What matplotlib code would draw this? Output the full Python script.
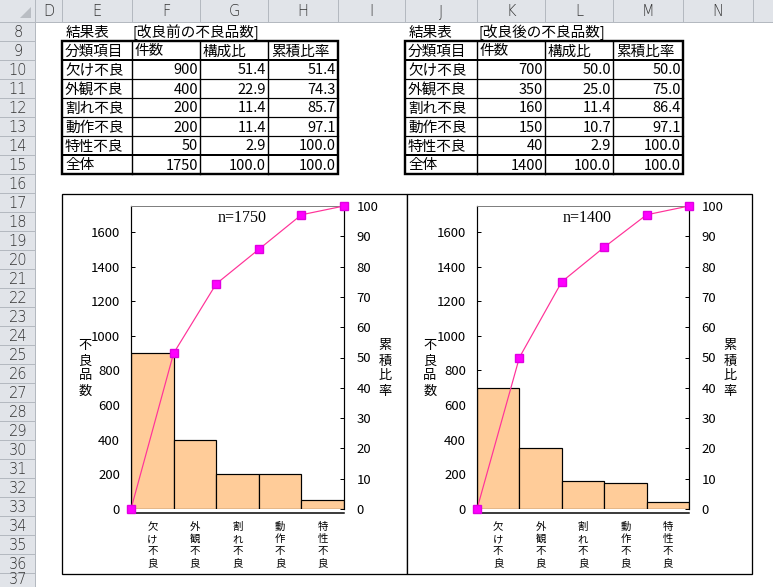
import matplotlib
matplotlib.use("Agg")
import matplotlib.pyplot as plt
from matplotlib.patches import Rectangle, Polygon

plt.rcParams['font.family'] = ['Noto Sans CJK JP', 'DejaVu Sans']

# spreadsheet data
categories = ['欠け不良', '外観不良', '割れ不良', '動作不良', '特性不良']
before_counts = [900, 400, 200, 200, 50]
before_share = [51.4, 22.9, 11.4, 11.4, 2.9]
before_cum = [51.4, 74.3, 85.7, 97.1, 100.0]
before_total = 1750
after_counts = [700, 350, 160, 150, 40]
after_share = [50.0, 25.0, 11.4, 10.7, 2.9]
after_cum = [50.0, 75.0, 86.4, 97.1, 100.0]
after_total = 1400

col_letters = ['D', 'E', 'F', 'G', 'H', 'I', 'J', 'K', 'L', 'M', 'N', '']
col_edges = [35, 62, 132, 200, 268, 338, 405, 477, 545, 613, 683, 753, 773]
row_numbers = list(range(8, 38))
left_ticks = [0, 200, 400, 600, 800, 1000, 1200, 1400, 1600]
right_ticks = [0, 10, 20, 30, 40, 50, 60, 70, 80, 90, 100]

W, H = 773, 587
HDR = 22
ROW = 19
fig = plt.figure(figsize=(W / 100, H / 100), dpi=100)
bg = fig.add_axes([0, 0, 1, 1])
bg.set_xlim(0, W)
bg.set_ylim(H, 0)
bg.axis('off')

def px(v):
    return v * 0.72

# header row and row-number column
head_col = '#E1E4E9'
sep_col = '#B4B9C0'
bg.add_patch(Rectangle((0, 0), W, HDR, fc=head_col, ec='none'))
bg.add_patch(Rectangle((0, 0), 35, H, fc=head_col, ec='none'))
bg.plot([0, W], [HDR, HDR], color=sep_col, lw=px(1))
bg.plot([35, 35], [0, H], color=sep_col, lw=px(1))
bg.add_patch(Polygon([[31, 7], [31, 18], [20, 18]], closed=True, fc='#B9BDC3', ec='none'))
for i, letter in enumerate(col_letters):
    x0, x1 = col_edges[i], col_edges[i + 1]
    bg.plot([x1, x1], [0, HDR], color=sep_col, lw=px(1))
    bg.text((x0 + x1) / 2, HDR / 2 + 1, letter, ha='center', va='center',
            fontsize=10.5, color='#333333', family='DejaVu Sans', fontweight='light')
for j, r in enumerate(row_numbers):
    y0 = HDR + j * ROW
    bg.plot([0, 35], [y0 + ROW, y0 + ROW], color=sep_col, lw=px(1))
    bg.text(18, min(y0 + ROW / 2 + 1, H - 8), str(r), ha='center', va='center',
            fontsize=10.5, color='#333333', family='DejaVu Sans', fontweight='light')

# result tables
def draw_table(x_edges, title, counts, share, cum, total):
    y_top = HDR + ROW
    bg.text(x_edges[0] + 4, HDR + ROW / 2 + 1, '結果表', ha='left', va='center', fontsize=10.5)
    bg.text(x_edges[1] + 1, HDR + ROW / 2 + 1, title, ha='left', va='center', fontsize=10.5)
    rows = [['分類項目', '件数', '構成比', '累積比率']]
    for c, n, s, cu in zip(categories, counts, share, cum):
        rows.append([c, str(n), f'{s:.1f}', f'{cu:.1f}'])
    rows.append(['全体', str(total), '100.0', '100.0'])
    for j, row in enumerate(rows):
        yc = y_top + j * ROW + ROW / 2 + 1
        for k, val in enumerate(row):
            if j == 0 or k == 0:
                bg.text(x_edges[k] + 3, yc, val, ha='left', va='center', fontsize=10.5)
            else:
                bg.text(x_edges[k + 1] - 2, yc, val, ha='right', va='center', fontsize=10.5)
    y_bot = y_top + len(rows) * ROW
    for j in range(1, len(rows)):
        y = y_top + j * ROW
        lw = 2 if j in (1, len(rows) - 1) else 1.2
        bg.plot([x_edges[0], x_edges[-1]], [y, y], color='black', lw=px(lw))
    for x in x_edges[1:-1]:
        bg.plot([x, x], [y_top, y_bot], color='black', lw=px(1.4))
    bg.add_patch(Rectangle((x_edges[0], y_top), x_edges[-1] - x_edges[0], y_bot - y_top,
                           fc='none', ec='black', lw=px(2.4)))

draw_table([62, 132, 200, 268, 338], '[改良前の不良品数]', before_counts, before_share, before_cum, before_total)
draw_table([405, 477, 545, 613, 683], '[改良後の不良品数]', after_counts, after_share, after_cum, after_total)

# chart frames
bg.add_patch(Rectangle((62, 194), 345, 380, fc='white', ec='black', lw=px(1.3)))
bg.add_patch(Rectangle((407, 194), 345, 380, fc='white', ec='black', lw=px(1.3)))

def vertical_text(x, y_first, text, step, size):
    # one character per line, like Excel's stacked text
    for k, ch in enumerate(text):
        bg.text(x, y_first + k * step, ch, ha='center', va='center', fontsize=size)

def pareto(x0, x1, counts, cum, total, ylab_x, ylab2_x):
    top, zero = 206, 509
    ax = fig.add_axes([x0 / W, (H - zero) / H, (x1 - x0) / W, (zero - top) / H])
    ax.patch.set_alpha(0)
    xs = [i + 0.5 for i in range(len(counts))]
    ax.bar(xs, counts, width=1.0, color='#FFCC99', edgecolor='black', linewidth=px(1.2), zorder=2)
    ax.set_xlim(0, len(counts))
    ax.set_ylim(0, 1750)
    ax.set_yticks(left_ticks)
    ax.set_xticks(xs)
    ax.set_xticklabels([])
    ax.tick_params(axis='x', length=0)
    ax.tick_params(axis='y', direction='in', length=3, width=px(1), pad=8, labelsize=9.5)
    ax.spines['top'].set_color('#808080')
    ax.spines['top'].set_linewidth(px(1))
    ax.spines['right'].set_visible(False)
    ax.spines['left'].set_linewidth(px(1.2))
    ax.spines['bottom'].set_position(('outward', 3))
    ax.spines['bottom'].set_linewidth(px(1.5))

    # category names stacked vertically under each bar
    tr = ax.get_xaxis_transform()
    for xc, cat in zip(xs, categories):
        for k, ch in enumerate(cat):
            ax.text(xc, -(18 + 12 * k) / (zero - top), ch, transform=tr,
                    ha='center', va='center', fontsize=7.5)

    ax2 = ax.twinx()
    ax2.plot(range(len(cum) + 1), [0] + cum, color='#FF3399', lw=px(1.2),
             marker='s', markersize=5.5, markerfacecolor='#FF00FF',
             markeredgecolor='#E000E0', clip_on=False, zorder=5)
    ax2.set_ylim(0, 100)
    ax2.set_yticks(right_ticks)
    ax2.tick_params(axis='y', direction='in', length=3, width=px(1), pad=9, labelsize=9.5)
    for s in ('top', 'bottom', 'left'):
        ax2.spines[s].set_visible(False)
    ax2.spines['right'].set_linewidth(px(1.2))

    ax.text(0.52, 0.96, f'n={total}', transform=ax.transAxes, ha='center', va='center',
            fontsize=11.5, family='Liberation Serif')
    vertical_text(ylab_x, 346, '不良品数', 15, 9.5)
    vertical_text(ylab2_x, 346, '累積比率', 15, 9.5)

pareto(131, 344, before_counts, before_cum, before_total, 85, 385)
pareto(477, 689, after_counts, after_cum, after_total, 430, 730)

fig.savefig('out.png', dpi=100)
